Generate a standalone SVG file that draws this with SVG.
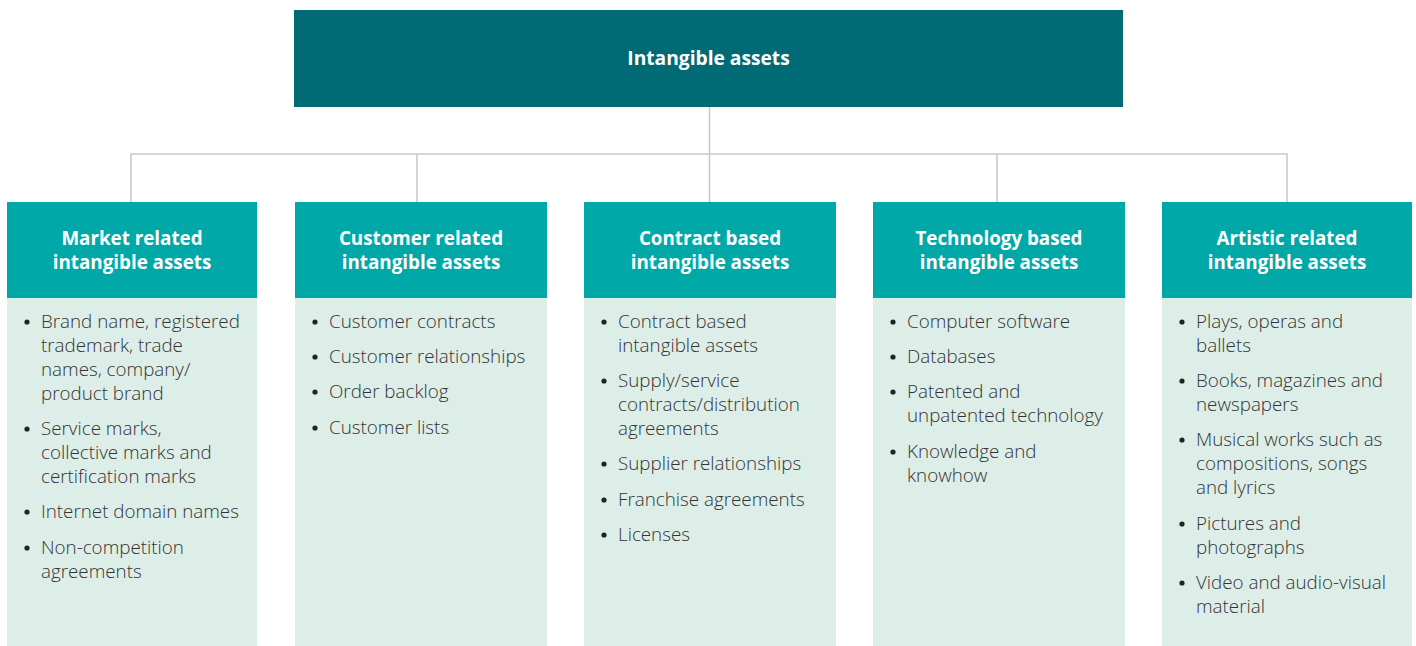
<svg xmlns="http://www.w3.org/2000/svg" width="1416" height="646" viewBox="0 0 1416 646">
<style>
.hdr{fill:#00A9A8}
.body{fill:#DDEEE9}
.ht{font-family:"Open Sans",sans-serif;font-weight:700;font-size:18.8px;fill:#fff;text-anchor:middle}
.bt{font-family:"Open Sans",sans-serif;font-weight:300;font-size:18.8px;fill:#333}
.dot{fill:#222}
.conn{stroke:#C8C8C8;stroke-width:1.5;fill:none}
</style>
<rect width="1416" height="646" fill="#fff"/>
<g id="connectors">
<path class="conn" d="M709.5 107 V202 M131 202 V154 H1287 V202 M417 154 V202 M997 154 V202"/>
</g>
<g id="root">
<rect x="294" y="10" width="829" height="97" fill="#006B75"/>
<text class="ht" x="708.5" y="65" style="font-size:19.2px">Intangible assets</text>
</g>
<g id="market">
<rect class="hdr" x="7" y="202" width="250" height="96"/>
<rect class="body" x="7" y="298" width="250" height="348"/>
<text class="ht" x="132" y="245">Market related</text>
<text class="ht" x="132" y="269">intangible assets</text>
<circle class="dot" cx="27" cy="322" r="2.6"/><circle class="dot" cx="27" cy="429" r="2.6"/><circle class="dot" cx="27" cy="512" r="2.6"/><circle class="dot" cx="27" cy="548" r="2.6"/>
<text class="bt" x="41" y="328">Brand name, registered</text>
<text class="bt" x="41" y="352">trademark, trade</text>
<text class="bt" x="41" y="376">names, company/</text>
<text class="bt" x="41" y="400">product brand</text>
<text class="bt" x="41" y="435">Service marks,</text>
<text class="bt" x="41" y="459">collective marks and</text>
<text class="bt" x="41" y="483">certification marks</text>
<text class="bt" x="41" y="518">Internet domain names</text>
<text class="bt" x="41" y="554">Non-competition</text>
<text class="bt" x="41" y="578">agreements</text>
</g>
<g id="customer">
<rect class="hdr" x="295" y="202" width="252" height="96"/>
<rect class="body" x="295" y="298" width="252" height="348"/>
<text class="ht" x="421" y="245">Customer related</text>
<text class="ht" x="421" y="269">intangible assets</text>
<circle class="dot" cx="315" cy="322" r="2.6"/><circle class="dot" cx="315" cy="357" r="2.6"/><circle class="dot" cx="315" cy="392" r="2.6"/><circle class="dot" cx="315" cy="428" r="2.6"/>
<text class="bt" x="329" y="328">Customer contracts</text>
<text class="bt" x="329" y="363">Customer relationships</text>
<text class="bt" x="329" y="398">Order backlog</text>
<text class="bt" x="329" y="434">Customer lists</text>
</g>
<g id="contract">
<rect class="hdr" x="584" y="202" width="252" height="96"/>
<rect class="body" x="584" y="298" width="252" height="348"/>
<text class="ht" x="710" y="245">Contract based</text>
<text class="ht" x="710" y="269">intangible assets</text>
<circle class="dot" cx="604" cy="322" r="2.6"/><circle class="dot" cx="604" cy="381" r="2.6"/><circle class="dot" cx="604" cy="464" r="2.6"/><circle class="dot" cx="604" cy="500" r="2.6"/><circle class="dot" cx="604" cy="535" r="2.6"/>
<text class="bt" x="618" y="328">Contract based</text>
<text class="bt" x="618" y="352">intangible assets</text>
<text class="bt" x="618" y="387">Supply/service</text>
<text class="bt" x="618" y="411">contracts/distribution</text>
<text class="bt" x="618" y="435">agreements</text>
<text class="bt" x="618" y="470">Supplier relationships</text>
<text class="bt" x="618" y="506">Franchise agreements</text>
<text class="bt" x="618" y="541">Licenses</text>
</g>
<g id="technology">
<rect class="hdr" x="873" y="202" width="252" height="96"/>
<rect class="body" x="873" y="298" width="252" height="348"/>
<text class="ht" x="999" y="245">Technology based</text>
<text class="ht" x="999" y="269">intangible assets</text>
<circle class="dot" cx="893" cy="322" r="2.6"/><circle class="dot" cx="893" cy="357" r="2.6"/><circle class="dot" cx="893" cy="392" r="2.6"/><circle class="dot" cx="893" cy="452" r="2.6"/>
<text class="bt" x="907" y="328">Computer software</text>
<text class="bt" x="907" y="363">Databases</text>
<text class="bt" x="907" y="398">Patented and</text>
<text class="bt" x="907" y="422">unpatented technology</text>
<text class="bt" x="907" y="458">Knowledge and</text>
<text class="bt" x="907" y="482">knowhow</text>
</g>
<g id="artistic">
<rect class="hdr" x="1162" y="202" width="250" height="96"/>
<rect class="body" x="1162" y="298" width="250" height="348"/>
<text class="ht" x="1287" y="245">Artistic related</text>
<text class="ht" x="1287" y="269">intangible assets</text>
<circle class="dot" cx="1182" cy="322" r="2.6"/><circle class="dot" cx="1182" cy="381" r="2.6"/><circle class="dot" cx="1182" cy="440" r="2.6"/><circle class="dot" cx="1182" cy="524" r="2.6"/><circle class="dot" cx="1182" cy="583" r="2.6"/>
<text class="bt" x="1196" y="328">Plays, operas and</text>
<text class="bt" x="1196" y="352">ballets</text>
<text class="bt" x="1196" y="387">Books, magazines and</text>
<text class="bt" x="1196" y="411">newspapers</text>
<text class="bt" x="1196" y="446">Musical works such as</text>
<text class="bt" x="1196" y="470">compositions, songs</text>
<text class="bt" x="1196" y="494">and lyrics</text>
<text class="bt" x="1196" y="530">Pictures and</text>
<text class="bt" x="1196" y="554">photographs</text>
<text class="bt" x="1196" y="589">Video and audio-visual</text>
<text class="bt" x="1196" y="613">material</text>
</g>
</svg>
